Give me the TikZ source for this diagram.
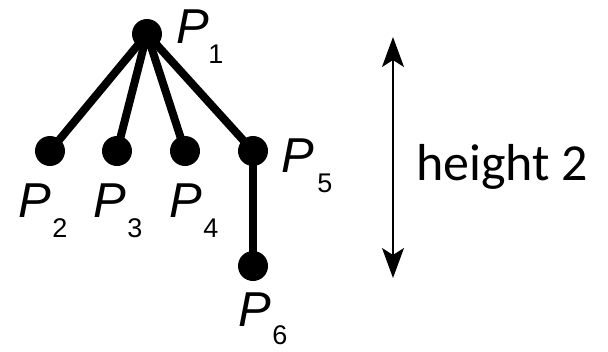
\documentclass[tikz,border=0pt]{standalone}
\usepackage{fontspec}
\setmainfont{Liberation Sans}
\newfontfamily\labelfont{Carlito}
\usetikzlibrary{arrows.meta}
\begin{document}
\begin{tikzpicture}[x=1pt,y=-1pt,
  vertex/.style={circle,fill=black,inner sep=0pt,minimum size=30pt},
  edge/.style={line width=8pt},
  pname/.style={anchor=base west,inner sep=0pt,font=\fontsize{49}{49}\selectfont\itshape},
  pindex/.style={anchor=base,inner sep=0pt,font=\fontsize{27}{27}\selectfont},
  span/.style={line width=1.4pt,{Stealth[length=30pt,width=22pt,inset=7pt]}-{Stealth[length=30pt,width=22pt,inset=7pt]}}]
\useasboundingbox (0,0) rectangle (608,351);

% tree vertices
\node[vertex] (p1) at (147,34) {};
\node[vertex] (p2) at (50,151) {};
\node[vertex] (p3) at (117,151) {};
\node[vertex] (p4) at (185,151) {};
\node[vertex] (p5) at (253,151) {};
\node[vertex] (p6) at (253,266) {};

% tree edges
\draw[edge] (p1.center) -- (p2.center);
\draw[edge] (p1.center) -- (p3.center);
\draw[edge] (p1.center) -- (p4.center);
\draw[edge] (p1.center) -- (p5.center);
\draw[edge] (p5.center) -- (p6.center);

% vertex labels
\node[pname] (l1) at (176,43) {P};
\node[pindex] (i1) at (216,63) {1};
\node[pname] (l2) at (18,217) {P};
\node[pindex] (i2) at (60,237) {2};
\node[pname] (l3) at (93,217) {P};
\node[pindex] (i3) at (135,237) {3};
\node[pname] (l4) at (169,217) {P};
\node[pindex] (i4) at (211,237) {4};
\node[pname] (l5) at (281,172) {P};
\node[pindex] (i5) at (325,192) {5};
\node[pname] (l6) at (238,326) {P};
\node[pindex] (i6) at (280,344) {6};

% height marker
\coordinate (top) at (393,37);
\coordinate (bottom) at (393,278);
\draw[span] (top) -- (bottom);
\node[anchor=base west,inner sep=0pt,font=\labelfont\fontsize{52}{52}\selectfont] (h) at (416,180) {height 2};
\end{tikzpicture}
\end{document}
